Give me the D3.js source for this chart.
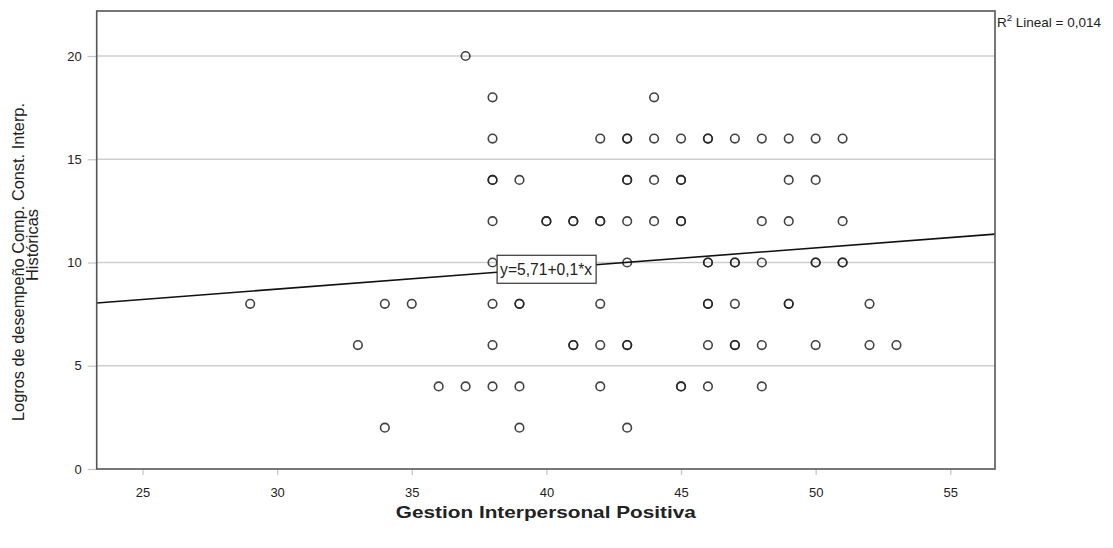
<!DOCTYPE html>
<html><head><meta charset="utf-8">
<script src="https://cdn.jsdelivr.net/npm/d3@7"></script>
<style>body{margin:0;background:#fff}svg{display:block}</style>
</head><body>
<script>
// Observations (x = Gestion Interpersonal Positiva, y = Logros ...), duplicates repeated
const xValues = [37,
  38,44,
  38,42,43,43,44,45,46,46,47,48,49,50,51,
  38,38,39,43,43,44,45,45,49,50,
  38,40,40,41,41,42,42,43,44,45,45,48,49,51,
  38,43,46,46,47,47,48,50,50,51,51,
  29,34,35,38,39,39,42,46,46,47,49,49,52,
  33,38,41,41,42,43,43,46,47,47,48,50,52,53,
  36,37,38,39,42,45,45,46,48,
  34,39,43];
const yValues = [20,
  18,18,
  16,16,16,16,16,16,16,16,16,16,16,16,16,
  14,14,14,14,14,14,14,14,14,14,
  12,12,12,12,12,12,12,12,12,12,12,12,12,12,
  10,10,10,10,10,10,10,10,10,10,10,
  8,8,8,8,8,8,8,8,8,8,8,8,8,
  6,6,6,6,6,6,6,6,6,6,6,6,6,6,
  4,4,4,4,4,4,4,4,4,
  2,2,2];
const xTicks = [25,30,35,40,45,50,55];
const yTicks = [0,5,10,15,20];
const intercept = 5.71, slope = 0.1;
const fitLabel = "y=5,71+0,1*x";
const r2Label = ["R", "2", " Lineal = 0,014"];
const xTitle = "Gestion Interpersonal Positiva";
const yTitle = ["Logros de desempeño Comp. Const. Interp.", "Históricas"];

const W = 1113, H = 548;
const L = 96.7, R = 995, T = 11, B = 469;
const x = d3.scaleLinear().domain([23.3, 56.66]).range([L, R]);
const y = d3.scaleLinear().domain([0, 22.18]).range([B, T]);

const svg = d3.select("body").append("svg").attr("width", W).attr("height", H)
  .style("font-family", "Arial, 'Liberation Sans', sans-serif");

// gridlines
svg.append("g").selectAll("line").data(yTicks.filter(d => d > 0)).join("line")
  .attr("x1", L).attr("x2", R).attr("y1", d => y(d)).attr("y2", d => y(d))
  .attr("stroke", "#cfcfcf").attr("stroke-width", 1.5);

// y axis
const ya = svg.append("g").attr("transform", `translate(${L},0)`)
  .call(d3.axisLeft(y).tickValues(yTicks).tickSize(9).tickPadding(6));
ya.select(".domain").remove();
ya.selectAll("line").attr("stroke", "#c8c8c8").attr("stroke-width", 1.3);
ya.selectAll("text").attr("font-size", 13).attr("fill", "#222").attr("font-family", "Arial, 'Liberation Sans', sans-serif");

// x axis
const xa = svg.append("g").attr("transform", `translate(0,${B})`)
  .call(d3.axisBottom(x).tickValues(xTicks).tickSize(6).tickPadding(13));
xa.select(".domain").remove();
xa.selectAll("line").attr("stroke", "#c8c8c8").attr("stroke-width", 1.3);
xa.selectAll("text").attr("font-size", 13).attr("fill", "#222").attr("font-family", "Arial, 'Liberation Sans', sans-serif");

// clip
svg.append("clipPath").attr("id", "clip").append("rect")
  .attr("x", L).attr("y", T).attr("width", R - L).attr("height", B - T);

// points
svg.append("g").attr("clip-path", "url(#clip)").selectAll("circle")
  .data(xValues.map((v, i) => [v, yValues[i]])).join("circle")
  .attr("cx", d => x(d[0])).attr("cy", d => y(d[1])).attr("r", 4.3)
  .attr("fill", "none").attr("stroke", "#222").attr("stroke-opacity", 0.85).attr("stroke-width", 1.6);

// regression line
const [x0, x1] = x.domain();
svg.append("line").attr("clip-path", "url(#clip)")
  .attr("x1", x(x0)).attr("y1", y(intercept + slope * x0))
  .attr("x2", x(x1)).attr("y2", y(intercept + slope * x1))
  .attr("stroke", "#111").attr("stroke-width", 1.6);

// frame
svg.append("rect").attr("x", L).attr("y", T).attr("width", R - L).attr("height", B - T)
  .attr("fill", "none").attr("stroke", "#555").attr("stroke-width", 1.6);

// fit label box
const bx = x(38.17), by = y(10.35);
const g = svg.append("g");
const t = g.append("text").attr("x", bx + 3).attr("y", by + 20).attr("font-size", 16)
  .attr("fill", "#222").attr("textLength", 92).attr("lengthAdjust", "spacingAndGlyphs").text(fitLabel);
g.insert("rect", "text").attr("x", bx).attr("y", by).attr("width", 99).attr("height", 28)
  .attr("fill", "#fff").attr("stroke", "#333").attr("stroke-width", 1.2);

// R2 label
const rt = svg.append("text").attr("x", 997).attr("y", 27).attr("font-size", 13.5).attr("fill", "#222");
rt.append("tspan").text(r2Label[0]);
rt.append("tspan").attr("dy", -6).attr("font-size", 9.5).text(r2Label[1]);
rt.append("tspan").attr("dy", 6).text(r2Label[2]);

// axis titles
svg.append("text").attr("x", (L + R) / 2).attr("y", 518).attr("text-anchor", "middle")
  .attr("font-size", 17).attr("font-weight", "bold").attr("fill", "#222")
  .attr("textLength", 300).attr("lengthAdjust", "spacingAndGlyphs").text(xTitle);
svg.append("text").attr("transform", "translate(24,262) rotate(-90)").attr("text-anchor", "middle")
  .attr("font-size", 16).attr("fill", "#222").attr("textLength", 318).attr("lengthAdjust", "spacingAndGlyphs").text(yTitle[0]);
svg.append("text").attr("transform", "translate(38,245) rotate(-90)").attr("text-anchor", "middle")
  .attr("font-size", 16).attr("fill", "#222").attr("textLength", 72).attr("lengthAdjust", "spacingAndGlyphs").text(yTitle[1]);
</script>
</body></html>
